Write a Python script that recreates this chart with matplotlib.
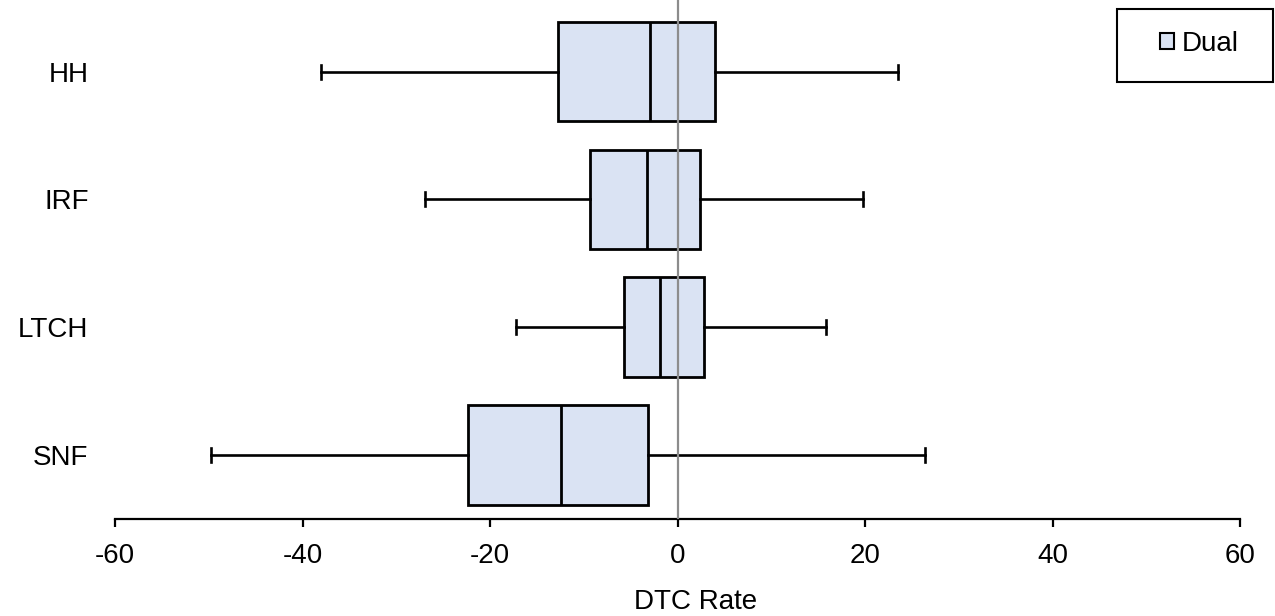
import matplotlib.pyplot as plt
from matplotlib.patches import Patch, Rectangle

plt.rcParams['font.family'] = ['Liberation Sans', 'DejaVu Sans']
plt.rcParams['axes.unicode_minus'] = False

# box statistics per setting (DTC rate)
settings = ["HH", "IRF", "LTCH", "SNF"]
whisker_lo = [-38.0, -26.9, -17.2, -49.8]
q1 = [-12.7, -9.35, -5.7, -22.3]
median = [-2.9, -3.3, -1.9, -12.4]
q3 = [4.05, 2.35, 2.85, -3.1]
whisker_hi = [23.5, 19.8, 15.8, 26.4]

box_color = "#DAE3F3"
W, H = 1275, 616

fig = plt.figure(figsize=(W / 100, H / 100), dpi=100)
ax = fig.add_axes([115 / W, 1 - 519 / H, 1125 / W, 519 / H])

stats = []
for i, name in enumerate(settings):
    stats.append({
        "label": name,
        "whislo": whisker_lo[i],
        "q1": q1[i],
        "med": median[i],
        "q3": q3[i],
        "whishi": whisker_hi[i],
        "fliers": [],
    })

positions = list(range(len(settings), 0, -1))
ax.axvline(0, color="#8c8c8c", lw=1.6, zorder=3)
ax.bxp(stats, positions=positions, vert=False, widths=0.78, patch_artist=True,
       showfliers=False, capwidths=0.11,
       boxprops=dict(facecolor=box_color, edgecolor="black", lw=2.0),
       medianprops=dict(color="black", lw=2.0),
       whiskerprops=dict(color="black", lw=1.9),
       capprops=dict(color="black", lw=1.9),
       zorder=2)

ax.set_xlim(-60, 60)
ax.set_ylim(0.5, 4.56)
ax.set_xticks(range(-60, 61, 20))
ax.set_yticks(positions)
ax.set_yticklabels(settings)

for side in ["top", "right", "left"]:
    ax.spines[side].set_visible(False)
ax.spines["bottom"].set_linewidth(1.6)
ax.tick_params(axis="x", direction="out", length=6, width=1.6, labelsize=20, pad=11)
ax.tick_params(axis="y", length=0, labelsize=20, pad=19)
ax.set_xlabel("DTC Rate", fontsize=20, labelpad=15)
ax.xaxis.label.set_x((696 - 115) / 1125)

# legend: square key inside a plain rectangular frame
fig.patches.append(Rectangle((1117 / W, 1 - 82 / H), 156 / W, 73 / H,
                             transform=fig.transFigure, fill=False,
                             edgecolor="black", lw=1.5))
handle = Patch(facecolor=box_color, edgecolor="black", lw=1.5, label="Dual")
leg = ax.legend(handles=[handle], loc="center left",
                bbox_to_anchor=(1160 / W, 1 - 44 / H), bbox_transform=fig.transFigure,
                fontsize=20, frameon=False, handlelength=0.52, handleheight=0.52,
                handletextpad=0.28, borderpad=0, borderaxespad=0)

fig.savefig("out.png", dpi=100)
